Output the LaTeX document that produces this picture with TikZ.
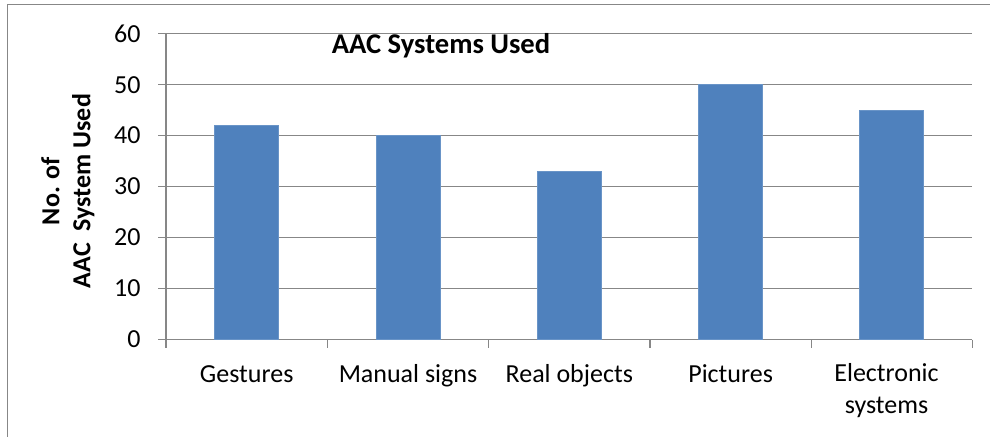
\documentclass[tikz,border=0pt]{standalone}
\usepackage{fontspec}
\setmainfont{Carlito}
\begin{document}
\begin{tikzpicture}[x=0.5pt,y=-0.5pt,
  frameline/.style={draw=black!47,line width=0.7pt},
  gridline/.style={draw=black!47,line width=0.65pt},
  bar/.style={fill=barblue,draw=barblue!85!white,line width=0.4pt},
  ticklabel/.style={font=\fontsize{13}{15.6}\selectfont,anchor=east,inner sep=0pt},
  catlabel/.style={font=\fontsize{13}{15.8}\selectfont,align=center,anchor=base,inner sep=0pt},
  charttitle/.style={font=\bfseries\fontsize{14.3}{17}\selectfont,anchor=base,inner sep=0pt},
  axistitle/.style={font=\bfseries\fontsize{13}{15.5}\selectfont,align=center,rotate=90,inner sep=0pt}]
\definecolor{barblue}{HTML}{4F81BD}
\useasboundingbox (0,0) rectangle (990,436);
% chart frame (only top and left edges fall inside the page)
\draw[frameline] (7.5,450) -- (7.5,4.5) -- (1000,4.5);
% horizontal gridlines and value ticks
\foreach \v in {0,10,...,60}{
  \draw[gridline] (158,{339.5-\v*5.097}) -- (972.3,{339.5-\v*5.097});
  \node[ticklabel] (t\v) at (141,{339.5-\v*5.097}) {\v};
}
% value axis
\draw[gridline] (166,33.7) -- (166,339.5);
% category ticks
\foreach \k in {0,...,5}{
  \draw[gridline] ({166+\k*161.3},339.5) -- ({166+\k*161.3},347.7);
}
% bars
\foreach \k/\val in {0/42,1/40,2/33,3/50,4/45}{
  \fill[bar] ({166+(\k+0.5)*161.3-32},339.5) rectangle ({166+(\k+0.5)*161.3+32},{339.5-\val*5.097});
}
% category labels (base anchor of a two-line label is its last line)
\node[catlabel] (c0) at (246.7,382) {Gestures};
\node[catlabel] (c1) at (408.0,382) {Manual signs};
\node[catlabel] (c2) at (569.3,382) {Real objects};
\node[catlabel] (c3) at (730.6,382) {Pictures};
\node[catlabel] (c4) at (886.5,413.5) {Electronic\\systems};
% titles
\node[charttitle] (title) at (441,53) {AAC Systems Used};
\node[axistitle] (ytitle) at (68,191) {No. of\\AAC\ \ System Used};
\end{tikzpicture}
\end{document}
